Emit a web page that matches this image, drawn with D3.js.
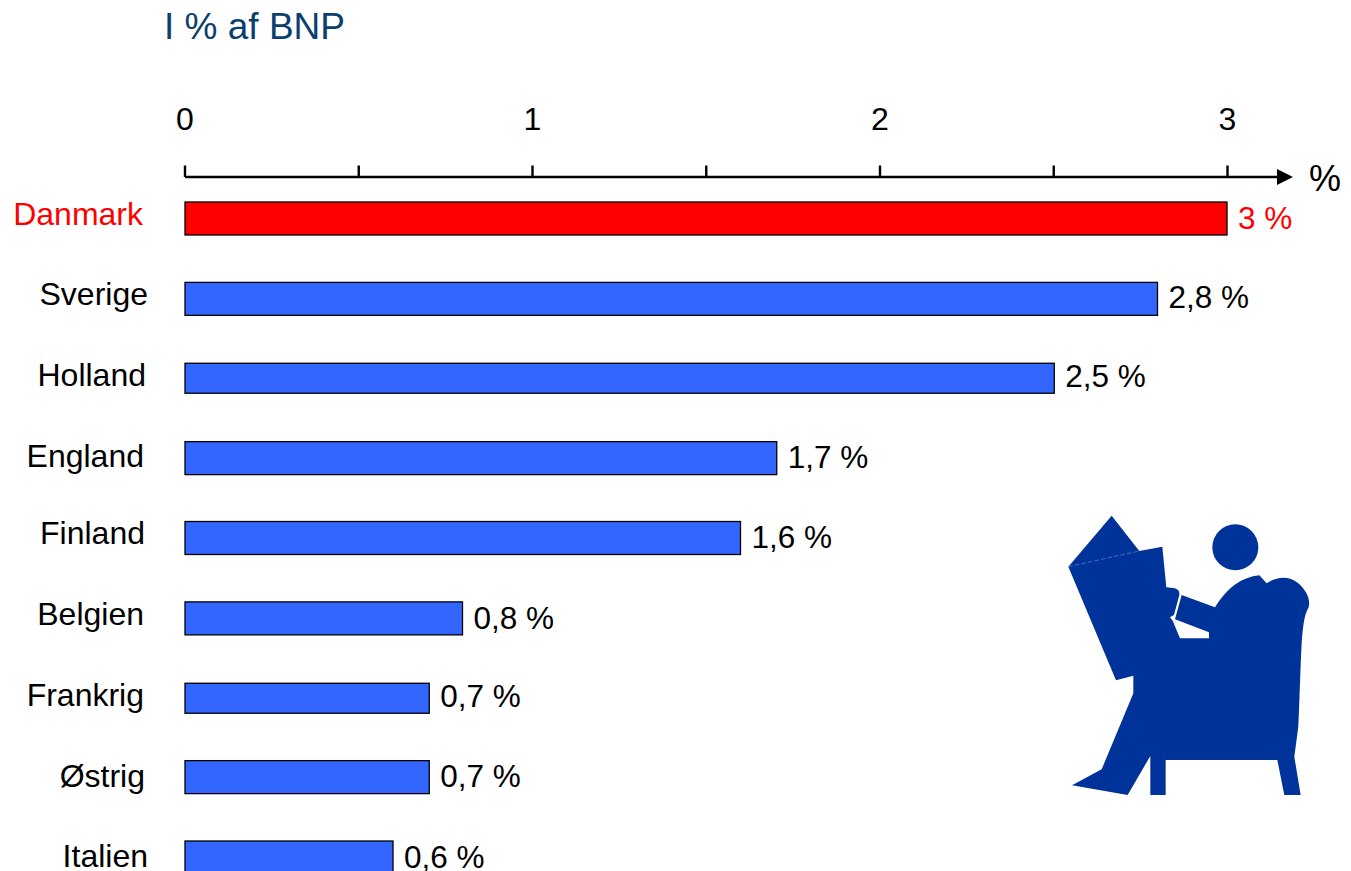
<!DOCTYPE html>
<html>
<head>
<meta charset="utf-8">
<script src="https://cdn.jsdelivr.net/npm/d3@7"></script>
<style>
html, body { margin: 0; padding: 0; background: #fff; overflow: hidden; }
text { font-family: "Liberation Sans", Arial, sans-serif; }
</style>
</head>
<body>
<svg id="chart-area" width="1351" height="871"></svg>
<script>
var countries = ["Danmark", "Sverige", "Holland", "England", "Finland", "Belgien", "Frankrig", "Østrig", "Italien"];
var values = [3, 2.8, 2.5, 1.7, 1.6, 0.8, 0.7, 0.7, 0.6];
var valueLabels = ["3 %", "2,8 %", "2,5 %", "1,7 %", "1,6 %", "0,8 %", "0,7 %", "0,7 %", "0,6 %"];
var majorTicks = [0, 1, 2, 3];
var minorTicks = [0.5, 1.5, 2.5];

// the labels and bars in the original are placed by hand, so they wander a little
var nameEnd = [143, 148, 146, 144, 145, 144, 144, 145, 148];
var nameNudge = [-4.5, -4.5, -3.5, -2.5, -5, -4, -3, -2, -2];
var valueNudge = [-0.5, -1.5, -2.5, -1.5, -1, 0, -2, -2, -1];
var heightTrim = [0, 0, 3, 0, 0, 0, 3, 0, 0];
var topNudge = [0, 0.5, 1.5, 0, 0, 0.5, 2, -0.5, 0];
var endNudge = [-0.5, -0.5, 0.5, 1, -0.5, -0.5, 1, 1, -0.5];

var svg = d3.select("svg#chart-area");

var x = d3.scaleLinear().domain([0, 3]).range([185, 1227.5]);
var y = d3.scaleBand().domain(countries).range([202, 874]).paddingInner(0.587).paddingOuter(0);

function colour(i) { return i == 0 ? "#ff0000" : "#000"; }

svg.append("text").attr("x", 164).attr("y", 39)
    .style("font-size", "37px").attr("fill", "#0b3f6e").text("I % af BNP");

// axis line with arrow head
svg.append("line").attr("x1", x(0)).attr("x2", 1280).attr("y1", 177).attr("y2", 177)
    .attr("stroke", "#000").attr("stroke-width", 2.4);
svg.append("path").attr("d", "M1277,169L1293,177L1277,185Z").attr("fill", "#000");

svg.selectAll(".tick-mark")
    .data(majorTicks.concat(minorTicks))
    .enter().append("line")
    .attr("class", "tick-mark")
    .attr("x1", function(d) { return x(d); })
    .attr("x2", function(d) { return x(d); })
    .attr("y1", 165.5).attr("y2", 177)
    .attr("stroke", "#000").attr("stroke-width", 2.4);

svg.selectAll(".tick-label")
    .data(majorTicks)
    .enter().append("text")
    .attr("class", "tick-label")
    .attr("x", function(d) { return x(d); })
    .attr("y", 130)
    .attr("text-anchor", "middle")
    .style("font-size", "32px")
    .text(function(d) { return d; });

svg.append("text").attr("x", 1309).attr("y", 191).style("font-size", "36px").text("%");

svg.selectAll(".bar")
    .data(values)
    .enter().append("rect")
    .attr("class", "bar")
    .attr("x", x(0))
    .attr("y", function(d, i) { return y(countries[i]) + topNudge[i]; })
    .attr("width", function(d, i) { return x(d) - x(0) + endNudge[i]; })
    .attr("height", function(d, i) { return y.bandwidth() - heightTrim[i]; })
    .attr("fill", function(d, i) { return i == 0 ? "#ff0000" : "#3366ff"; })
    .attr("stroke", "#000").attr("stroke-width", 1.3);

svg.selectAll(".name")
    .data(countries)
    .enter().append("text")
    .attr("class", "name")
    .attr("x", function(d, i) { return nameEnd[i]; })
    .attr("y", function(d, i) { return y(d) + y.bandwidth() / 2 + 11 + nameNudge[i]; })
    .attr("text-anchor", "end")
    .attr("fill", function(d, i) { return colour(i); })
    .style("font-size", "32px")
    .text(function(d) { return d; });

svg.selectAll(".value")
    .data(values)
    .enter().append("text")
    .attr("class", "value")
    .attr("x", function(d, i) { return x(d) + 11 + endNudge[i]; })
    .attr("y", function(d, i) { return y(countries[i]) + y.bandwidth() / 2 + 11 + valueNudge[i]; })
    .attr("fill", function(d, i) { return colour(i); })
    .style("font-size", "31.5px")
    .text(function(d, i) { return valueLabels[i]; });

// reader in armchair, traced at 3x
var reader = svg.append("g").attr("transform", "translate(1050,500) scale(0.3333)").attr("fill", "#003399");
reader.append("circle").attr("cx", 556).attr("cy", 142).attr("r", 69);
reader.append("path").attr("d",
    "M55,200L185,47L268,153L337,140L349,262L375,265Q390,270 388,285L372,345L360,352L368,362L390,415L477,415L477,397L375,358L395,285L495,322"
    + "C535,260 575,232 628,226L650,250C680,230 715,225 745,250C770,272 782,298 776,322C762,345 757,390 754,450"
    + "C750,540 748,620 745,680L733,770L752,885L703,885L682,780L347,780L347,885L301,885L301,768L233,885L66,856L155,808L250,580L250,527L198,541Z");
reader.append("line").attr("x1", 55).attr("y1", 200).attr("x2", 268).attr("y2", 153)
    .attr("stroke", "#8fa6d6").attr("stroke-width", 1.5).attr("stroke-dasharray", "14 6");
</script>
</body>
</html>
